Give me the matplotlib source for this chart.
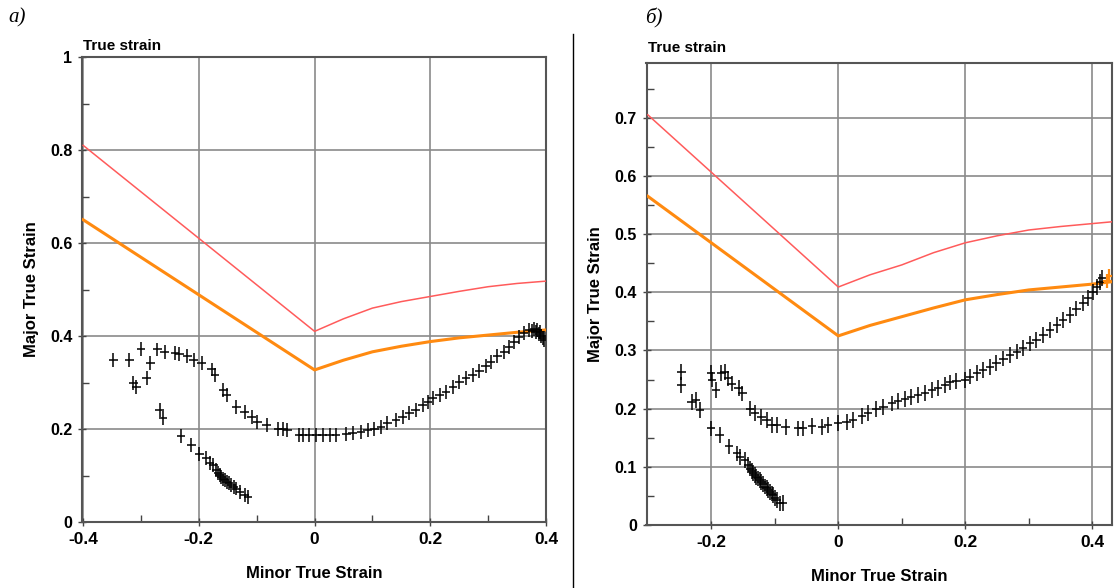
import matplotlib
matplotlib.use("Agg")
import matplotlib.pyplot as plt
from matplotlib.lines import Line2D
import numpy as np

# ---------------- data: panel a ----------------
a_red_x = [-0.4, 0.0, 0.05, 0.1, 0.15, 0.2, 0.25, 0.3, 0.35, 0.4]
a_red_y = [0.81, 0.41, 0.437, 0.46, 0.474, 0.485, 0.496, 0.506, 0.513, 0.518]
a_org_x = [-0.4, 0.0, 0.05, 0.1, 0.15, 0.2, 0.25, 0.3, 0.35, 0.4]
a_org_y = [0.65, 0.327, 0.348, 0.366, 0.378, 0.388, 0.396, 0.402, 0.408, 0.413]

a_pts_x = [-0.348, -0.320, -0.313, -0.308, -0.300, -0.290, -0.284, -0.272, -0.259,
           -0.241, -0.234, -0.220, -0.209, -0.195, -0.178, -0.172, -0.158, -0.152,
           -0.135, -0.121, -0.109, -0.099, -0.083, -0.063, -0.054, -0.047, -0.027,
           -0.020, -0.009, 0.003, 0.014, 0.026, 0.037, 0.055, 0.066, 0.080, 0.092,
           0.103, 0.115, 0.126, 0.141, 0.152, 0.164, 0.175, 0.187, 0.196, 0.204,
           0.216, 0.227, 0.239, 0.250, 0.262, 0.273, 0.285, 0.296, 0.305, 0.316,
           0.328, 0.336, 0.345, 0.353, 0.362, 0.371, 0.376, 0.380, 0.382, 0.385,
           0.388, 0.390, 0.392, 0.394, 0.397,
           # lower branch
           -0.268, -0.262, -0.231, -0.213, -0.199, -0.187, -0.181, -0.175, -0.170,
           -0.167, -0.164, -0.161, -0.158, -0.155, -0.152, -0.148, -0.144, -0.140,
           -0.135, -0.129, -0.121, -0.115]
a_pts_y = [0.348, 0.348, 0.298, 0.290, 0.373, 0.309, 0.341, 0.371, 0.366,
           0.363, 0.361, 0.356, 0.348, 0.341, 0.328, 0.316, 0.284, 0.273,
           0.248, 0.237, 0.225, 0.216, 0.209, 0.201, 0.199, 0.197, 0.188,
           0.188, 0.188, 0.188, 0.188, 0.188, 0.188, 0.189, 0.192, 0.194, 0.198,
           0.201, 0.205, 0.212, 0.219, 0.226, 0.234, 0.241, 0.252, 0.259, 0.266,
           0.273, 0.280, 0.291, 0.302, 0.309, 0.316, 0.325, 0.335, 0.345, 0.356,
           0.366, 0.377, 0.388, 0.398, 0.406, 0.413, 0.411, 0.415, 0.409, 0.413,
           0.405, 0.409, 0.400, 0.395, 0.391,
           0.241, 0.223, 0.184, 0.166, 0.146, 0.137, 0.126, 0.123, 0.112,
           0.105, 0.101, 0.097, 0.092, 0.090, 0.087, 0.084, 0.080, 0.076,
           0.072, 0.065, 0.058, 0.054]

# ---------------- data: panel b ----------------
b_red_x = [-0.3, 0.0, 0.05, 0.1, 0.15, 0.2, 0.25, 0.3, 0.35, 0.4, 0.43]
b_red_y = [0.705, 0.409, 0.430, 0.447, 0.468, 0.485, 0.497, 0.507, 0.513, 0.518, 0.521]
b_org_x = [-0.3, 0.0, 0.05, 0.1, 0.15, 0.2, 0.25, 0.3, 0.35, 0.4, 0.43]
b_org_y = [0.565, 0.325, 0.343, 0.358, 0.373, 0.387, 0.396, 0.404, 0.409, 0.414, 0.418]

b_pts_x = [-0.247, -0.247, -0.231, -0.224, -0.218, -0.201, -0.199, -0.193, -0.184,
           -0.179, -0.174, -0.168, -0.157, -0.151, -0.139, -0.131, -0.121, -0.113,
           -0.105, -0.097, -0.083, -0.063, -0.055, -0.041, -0.026, -0.016, 0.000,
           0.013, 0.023, 0.037, 0.047, 0.060, 0.071, 0.084, 0.094, 0.105, 0.115,
           0.126, 0.136, 0.147, 0.157, 0.168, 0.176, 0.186, 0.199, 0.207, 0.218,
           0.228, 0.239, 0.249, 0.260, 0.270, 0.281, 0.291, 0.302, 0.312, 0.323,
           0.333, 0.344, 0.354, 0.365, 0.375, 0.386, 0.393, 0.401, 0.407, 0.412,
           0.415,
           # lower branch
           -0.200, -0.187, -0.172, -0.159, -0.155, -0.147, -0.142, -0.139, -0.136,
           -0.134, -0.131, -0.129, -0.126, -0.124, -0.121, -0.118, -0.115, -0.113,
           -0.110, -0.108, -0.105, -0.103, -0.100, -0.097, -0.092, -0.087]
b_pts_y = [0.263, 0.241, 0.212, 0.215, 0.198, 0.261, 0.250, 0.232, 0.261,
           0.263, 0.252, 0.243, 0.235, 0.226, 0.200, 0.192, 0.186, 0.180,
           0.172, 0.172, 0.168, 0.166, 0.166, 0.170, 0.168, 0.172, 0.175,
           0.177, 0.181, 0.187, 0.193, 0.199, 0.203, 0.209, 0.213, 0.216, 0.220,
           0.223, 0.227, 0.232, 0.235, 0.241, 0.245, 0.248, 0.249, 0.255, 0.261,
           0.266, 0.272, 0.278, 0.286, 0.292, 0.298, 0.304, 0.312, 0.318, 0.326,
           0.335, 0.344, 0.352, 0.361, 0.372, 0.381, 0.390, 0.401, 0.409, 0.418,
           0.425,
           0.166, 0.155, 0.135, 0.123, 0.117, 0.112, 0.103, 0.097, 0.093,
           0.089, 0.086, 0.083, 0.080, 0.077, 0.074, 0.070, 0.066, 0.063,
           0.060, 0.057, 0.054, 0.052, 0.047, 0.043, 0.037, 0.038]

b_org_pts_x = [0.423, 0.427]
b_org_pts_y = [0.420, 0.428]

# ---------------- tick labels ----------------
a_xticks = [-0.4, -0.2, 0.0, 0.2, 0.4]
a_xlabels = ["-0.4", "-0.2", "0", "0.2", "0.4"]
a_yticks = [0.0, 0.2, 0.4, 0.6, 0.8, 1.0]
a_ylabels = ["0", "0.2", "0.4", "0.6", "0.8", "1"]
b_xticks = [-0.2, 0.0, 0.2, 0.4]
b_xlabels = ["-0.2", "0", "0.2", "0.4"]
b_yticks = [0.0, 0.1, 0.2, 0.3, 0.4, 0.5, 0.6, 0.7]
b_ylabels = ["0", "0.1", "0.2", "0.3", "0.4", "0.5", "0.6", "0.7"]

RED = "#ff5b5b"
ORANGE = "#ff8a10"
GRID = "#8a8a8a"
SANS = ["Liberation Sans", "DejaVu Sans"]
NARROW = ["Liberation Sans Narrow", "Liberation Sans", "DejaVu Sans"]

fig = plt.figure(figsize=(11.15, 5.88), dpi=100)
axA = fig.add_axes([82 / 1115, 1 - 522 / 588, (546 - 82) / 1115, (522 - 57) / 588])
axB = fig.add_axes([646.5 / 1115, 1 - 525 / 588, (1112 - 646.5) / 1115, (525 - 63) / 588])


def style(ax, xlim, ylim, xt, xl, yt, yl, xminor, yminor):
    ax.set_xlim(*xlim)
    ax.set_ylim(*ylim)
    ax.set_xticks(xt)
    ax.set_xticklabels(xl, family=NARROW, fontweight="bold", fontsize=12.5)
    ax.set_yticks(yt)
    ax.set_yticklabels(yl, family=SANS, fontweight="bold", fontsize=11.5)
    ax.set_xticks(xminor, minor=True)
    ax.set_yticks(yminor, minor=True)
    ax.grid(True, which="major", color=GRID, lw=1.2)
    ax.set_axisbelow(True)
    for s in ax.spines.values():
        s.set_color("#555555")
        s.set_linewidth(1.5)
    ax.tick_params(which="major", direction="inout", length=6, width=1, color="#444444", pad=4)
    ax.tick_params(which="minor", direction="in", length=5, width=1, color="#444444")
    ax.set_xlabel("Minor True Strain", family=SANS, fontweight="bold", fontsize=12, labelpad=14)
    ax.set_ylabel("Major True Strain", family=SANS, fontweight="bold", fontsize=12, labelpad=8)


style(axA, (-0.402, 0.4), (0, 1.0), a_xticks, a_xlabels, a_yticks, a_ylabels,
      [-0.3, -0.1, 0.1, 0.3], [0.1, 0.3, 0.5, 0.7, 0.9])
style(axB, (-0.302, 0.431), (0, 0.794), b_xticks, b_xlabels, b_yticks, b_ylabels,
      [-0.1, 0.1, 0.3], [0.05, 0.15, 0.25, 0.35, 0.45, 0.55, 0.65, 0.75])
axB.grid(True, which="major", axis="y", color=GRID, lw=1.2)

err_kw = dict(fmt="none", ecolor="black", elinewidth=1.1, capsize=0)

axA.plot(a_red_x, a_red_y, color=RED, lw=1.1, zorder=3)
axA.plot(a_org_x, a_org_y, color=ORANGE, lw=2.2, zorder=3)
axA.errorbar(a_pts_x, a_pts_y, xerr=0.0075, yerr=0.015, zorder=4, **err_kw)

axB.plot(b_red_x, b_red_y, color=RED, lw=1.1, zorder=3)
axB.plot(b_org_x, b_org_y, color=ORANGE, lw=2.2, zorder=3)
axB.errorbar(b_pts_x, b_pts_y, xerr=0.0065, yerr=0.0135, zorder=4, **err_kw)
axB.errorbar(b_org_pts_x, b_org_pts_y, xerr=0.006, yerr=0.012, fmt="none",
             ecolor=ORANGE, elinewidth=1.6, capsize=0, zorder=5)

# panel titles
fig.text(83 / 1115, 1 - 46 / 588, "True strain", family=SANS, fontweight="bold",
         fontsize=11, ha="left", va="center")
fig.text(648 / 1115, 1 - 48 / 588, "True strain", family=SANS, fontweight="bold",
         fontsize=11, ha="left", va="center")
fig.text(8 / 1115, 1 - 18 / 588, "а)", family=["Liberation Serif", "DejaVu Serif"],
         style="italic", fontsize=15, ha="left", va="center")
fig.text(645 / 1115, 1 - 18 / 588, "б)", family=["Liberation Serif", "DejaVu Serif"],
         style="italic", fontsize=15, ha="left", va="center")

# separator
fig.add_artist(Line2D([573 / 1115, 573 / 1115], [0, 1 - 34 / 588],
                      transform=fig.transFigure, color="black", lw=1))

fig.savefig("out.png", dpi=100, facecolor="white")
